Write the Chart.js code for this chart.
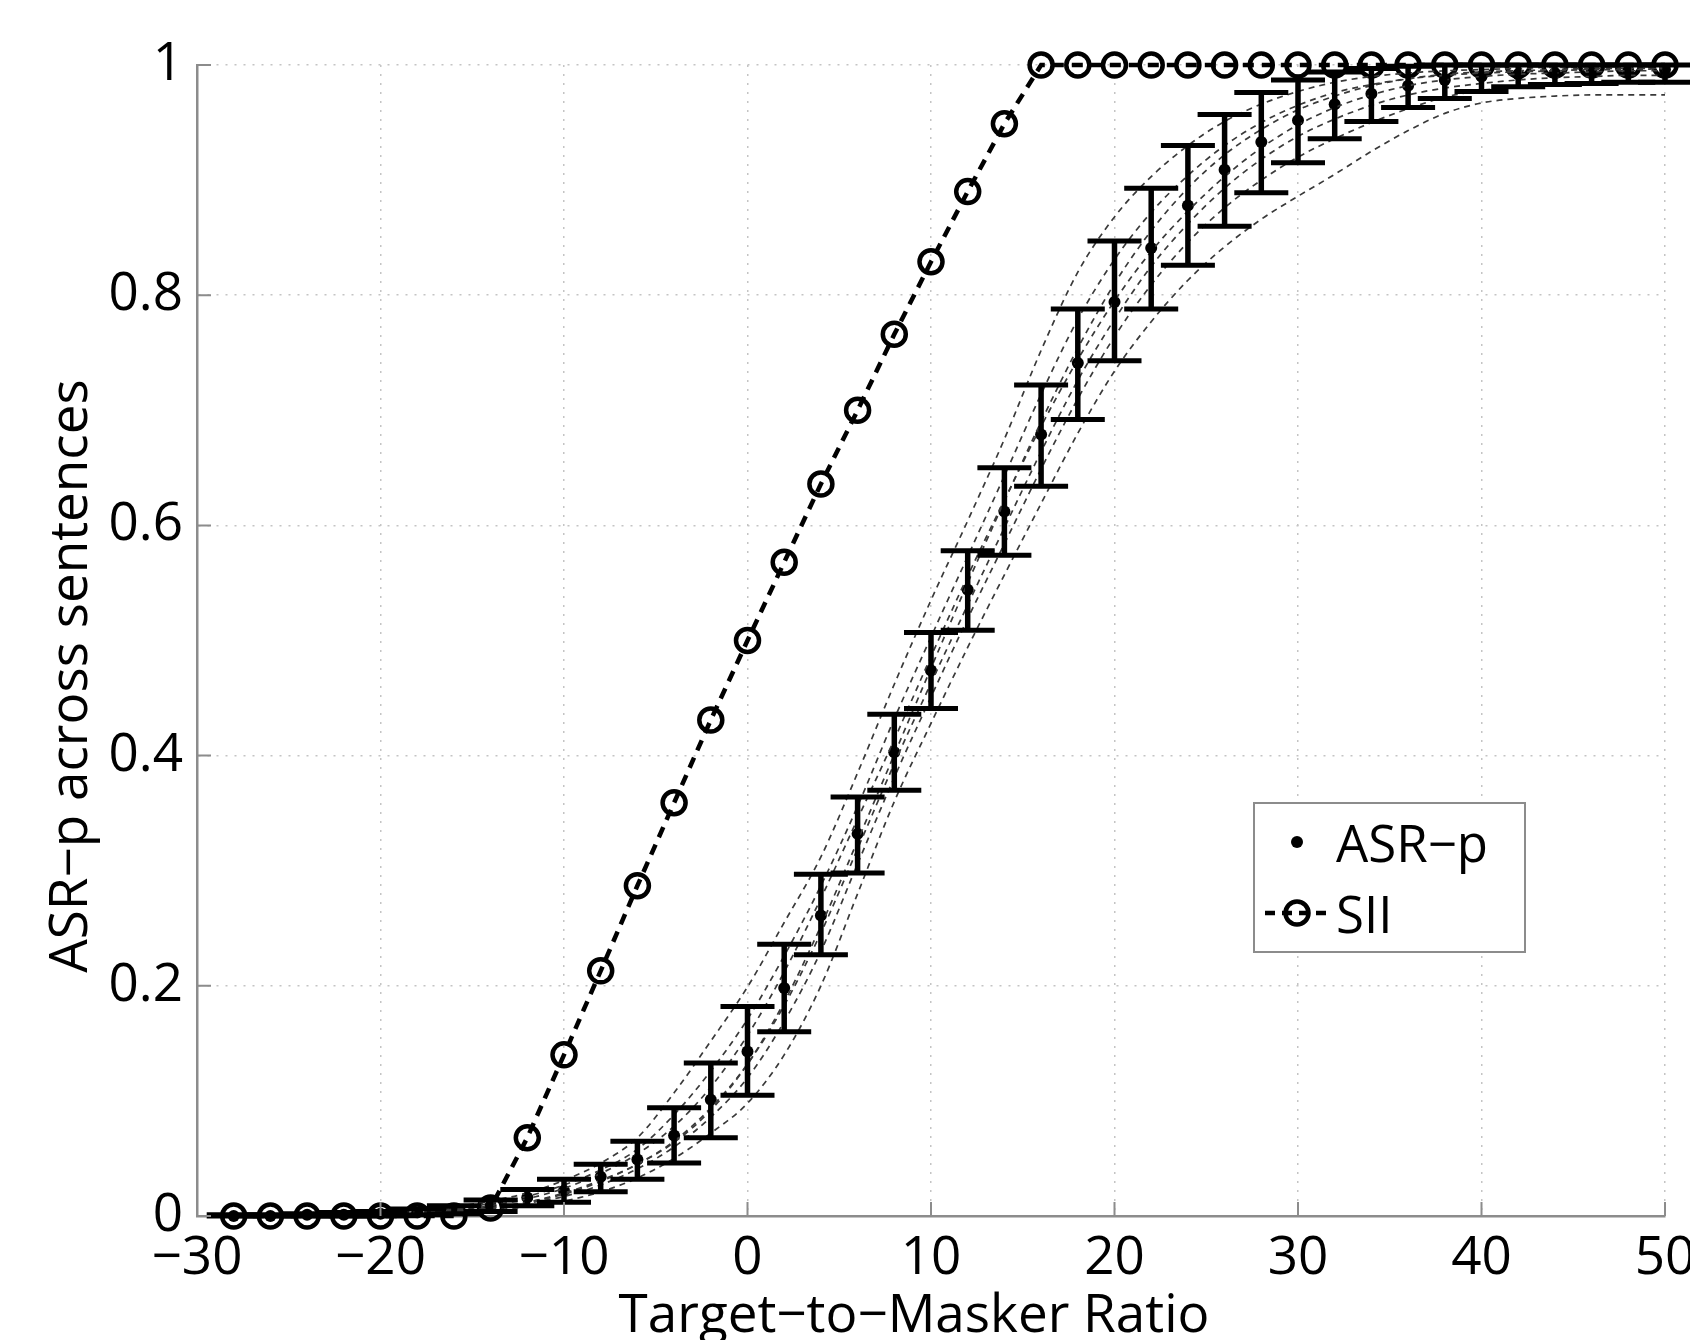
<!DOCTYPE html>
<html>
<head>
<meta charset="utf-8">
<script src="https://cdn.jsdelivr.net/npm/chart.js@4.4.1/dist/chart.umd.min.js"></script>
<style>
  html, body { margin: 0; padding: 0; background: #fff; }
  #wrap { width: 1690px; height: 1340px; }
</style>
</head>
<body>
<div id="wrap"><canvas id="c" width="1690" height="1340"></canvas></div>
<script>
// Target-to-masker ratio (dB) at which both predictors were evaluated
const tmr = [-28, -26, -24, -22, -20, -18, -16, -14, -12, -10, -8, -6, -4, -2, 0, 2, 4, 6, 8, 10,
             12, 14, 16, 18, 20, 22, 24, 26, 28, 30, 32, 34, 36, 38, 40, 42, 44, 46, 48, 50];

// SII prediction
const sii = [0, 0, 0, 0, 0, 0, 0, 0.007, 0.068, 0.140, 0.213, 0.287, 0.359, 0.431, 0.500, 0.568, 0.636, 0.700, 0.766, 0.829,
             0.890, 0.949, 1, 1, 1, 1, 1, 1, 1, 1, 1, 1, 1, 1, 1, 1, 1, 1, 1, 1];

// ASR-p mean across sentences, with the upper and lower ends of its error bars
const asrMean = [0.000, 0.000, 0.001, 0.001, 0.002, 0.003, 0.005, 0.009, 0.016, 0.022, 0.034, 0.049, 0.070, 0.101, 0.143, 0.198, 0.261, 0.332, 0.403, 0.474,
                 0.544, 0.612, 0.679, 0.741, 0.794, 0.841, 0.878, 0.909, 0.933, 0.952, 0.966, 0.975, 0.982, 0.987, 0.990, 0.992, 0.993, 0.994, 0.995, 0.996];
const asrHigh = [0.001, 0.001, 0.002, 0.003, 0.004, 0.006, 0.009, 0.014, 0.023, 0.032, 0.045, 0.065, 0.094, 0.133, 0.182, 0.236, 0.297, 0.364, 0.436, 0.507,
                 0.578, 0.650, 0.722, 0.788, 0.847, 0.893, 0.930, 0.957, 0.976, 0.987, 0.994, 0.997, 0.999, 1.000, 1.000, 1.000, 1.000, 1.000, 1.000, 1.000];
const asrLow  = [0.000, 0.000, 0.000, 0.000, 0.000, 0.001, 0.002, 0.004, 0.009, 0.012, 0.021, 0.032, 0.046, 0.068, 0.105, 0.160, 0.227, 0.298, 0.370, 0.441,
                 0.509, 0.574, 0.634, 0.692, 0.743, 0.788, 0.826, 0.860, 0.889, 0.915, 0.936, 0.951, 0.963, 0.971, 0.977, 0.981, 0.983, 0.984, 0.985, 0.985];

// Individual ASR-p sentence curves (thin dashed)
const curveX = [-20, -18, -16, -14, -12, -10, -8, -6, -4, -2, 0, 2, 4, 6, 8, 10, 12, 14,
                16, 18, 20, 22, 24, 26, 28, 30, 32, 34, 36, 38, 40, 42, 44, 46, 48, 50];
const curveA = [.003, .005, .008, .013, .020, .031, .046, .068, .107, .152, .199, .255, .312, .385, .462, .535, .604, .675,
                .752, .820, .868, .903, .930, .951, .966, .977, .985, .990, .993, .995, .996, .997, .998, .998, .998, .998];
const curveB = [.003, .004, .006, .011, .017, .027, .040, .058, .088, .126, .171, .226, .287, .356, .432, .503, .573, .643,
                .714, .779, .831, .872, .904, .930, .950, .965, .976, .983, .988, .991, .993, .994, .995, .996, .996, .997];
const curveC = [.002, .003, .005, .009, .015, .024, .037, .054, .078, .112, .157, .212, .276, .345, .414, .486, .556, .622,
                .686, .744, .795, .838, .873, .903, .928, .948, .963, .974, .982, .987, .990, .992, .993, .994, .995, .995];
const curveD = [.001, .002, .004, .007, .012, .019, .030, .045, .064, .092, .132, .186, .252, .326, .401, .476, .550, .621,
                .690, .754, .810, .856, .893, .922, .944, .961, .973, .982, .988, .992, .994, .995, .996, .997, .997, .997];
const curveE = [.002, .003, .004, .007, .012, .020, .031, .045, .065, .094, .132, .183, .246, .319, .393, .463, .531, .598,
                .664, .726, .779, .825, .862, .893, .918, .938, .953, .965, .974, .980, .984, .987, .989, .990, .991, .991];
const curveF = [.001, .002, .004, .006, .011, .017, .027, .041, .060, .086, .120, .169, .230, .306, .381, .451, .519, .584,
                .649, .710, .764, .809, .846, .876, .900, .920, .936, .950, .962, .972, .978, .981, .983, .984, .985, .985];
const curveG = [.001, .002, .003, .005, .008, .013, .021, .033, .050, .072, .098, .140, .200, .280, .360, .428, .494, .557,
                .619, .680, .734, .777, .813, .842, .866, .886, .905, .925, .943, .958, .967, .971, .973, .974, .974, .974];

// Axis ticks
const xTicks = [-30, -20, -10, 0, 10, 20, 30, 40, 50];
const yTicks = [0, 0.2, 0.4, 0.6, 0.8, 1];

const FONT = "'Open Sans', 'Noto Sans', sans-serif";
const minus = v => (v < 0 ? '\u2212' + Math.abs(v) : String(v));
const pts = (xs, ys) => xs.map((x, i) => ({ x, y: ys[i] }));

const sentenceCurves = [curveA, curveB, curveC, curveD, curveE, curveF, curveG].map(c => ({
  data: pts(curveX, c),
  showLine: true,
  borderColor: '#3a3a3a',
  borderWidth: 1.7,
  borderDash: [6, 5],
  pointRadius: 0,
  cubicInterpolationMode: 'monotone',
  clip: false
}));

// Error bars drawn from asrLow/asrHigh through the chart scales
const errorBars = {
  id: 'errorBars',
  afterDatasetsDraw(chart) {
    const { ctx, scales: { x, y } } = chart;
    const cap = 27;
    ctx.save();
    ctx.strokeStyle = '#000';
    for (let i = 0; i < tmr.length; i++) {
      const px = x.getPixelForValue(tmr[i]);
      const lo = y.getPixelForValue(asrLow[i]);
      const hi = y.getPixelForValue(asrHigh[i]);
      ctx.lineWidth = 5.5;
      ctx.beginPath();
      ctx.moveTo(px, lo); ctx.lineTo(px, hi);
      ctx.stroke();
      ctx.lineWidth = 5;
      ctx.beginPath();
      ctx.moveTo(px - cap, lo); ctx.lineTo(px + cap, lo);
      ctx.moveTo(px - cap, hi); ctx.lineTo(px + cap, hi);
      ctx.stroke();
    }
    ctx.restore();
  }
};

// Inward tick marks, axis titles and the legend box
const frame = {
  id: 'frame',
  afterDraw(chart) {
    const { ctx, chartArea: a, scales: { x, y } } = chart;
    ctx.save();
    ctx.strokeStyle = '#8c8c8c';
    ctx.lineWidth = 2;
    ctx.beginPath();
    xTicks.forEach(v => { const p = x.getPixelForValue(v); ctx.moveTo(p, a.bottom); ctx.lineTo(p, a.bottom - 14); });
    yTicks.forEach(v => { const p = y.getPixelForValue(v); ctx.moveTo(a.left, p); ctx.lineTo(a.left + 14, p); });
    ctx.stroke();

    ctx.fillStyle = '#000';
    ctx.font = `53px ${FONT}`;
    ctx.textAlign = 'center';
    ctx.textBaseline = 'alphabetic';
    ctx.fillText('Target\u2212to\u2212Masker Ratio', 914, 1332);
    ctx.save();
    ctx.translate(87, 676);
    ctx.rotate(-Math.PI / 2);
    ctx.fillText('ASR\u2212p across sentences', 0, 0);
    ctx.restore();

    // legend
    const L = { x: 1254, y: 803, w: 271, h: 149 };
    ctx.fillStyle = '#fff';
    ctx.fillRect(L.x, L.y, L.w, L.h);
    ctx.strokeStyle = '#8c8c8c';
    ctx.lineWidth = 2;
    ctx.strokeRect(L.x, L.y, L.w, L.h);

    ctx.fillStyle = '#000';
    ctx.beginPath();
    ctx.arc(1297, 842, 6, 0, Math.PI * 2);
    ctx.fill();

    ctx.strokeStyle = '#000';
    ctx.lineWidth = 4.5;
    ctx.setLineDash([10, 7]);
    ctx.beginPath();
    ctx.moveTo(1265, 913); ctx.lineTo(1327, 913);
    ctx.stroke();
    ctx.setLineDash([]);
    ctx.beginPath();
    ctx.arc(1297, 913, 11.5, 0, Math.PI * 2);
    ctx.stroke();

    ctx.font = `51px ${FONT}`;
    ctx.textAlign = 'left';
    ctx.fillText('ASR\u2212p', 1336, 862);
    ctx.fillText('SII', 1336, 933);
    ctx.restore();
  }
};

new Chart(document.getElementById('c'), {
  type: 'scatter',
  data: {
    datasets: [
      ...sentenceCurves,
      {
        label: 'ASR\u2212p',
        data: pts(tmr, asrMean),
        showLine: false,
        pointRadius: 6,
        pointBackgroundColor: '#000',
        pointBorderColor: '#000',
        pointBorderWidth: 0,
        clip: false
      },
      {
        label: 'SII',
        data: pts(tmr, sii),
        showLine: true,
        borderColor: '#000',
        borderWidth: 4.5,
        borderDash: [11, 8],
        tension: 0,
        pointStyle: 'circle',
        pointRadius: 11.5,
        pointBorderWidth: 4.5,
        pointBorderColor: '#000',
        pointBackgroundColor: 'rgba(0,0,0,0)',
        clip: false
      }
    ]
  },
  options: {
    responsive: false,
    animation: false,
    events: [],
    layout: { padding: { top: 65, right: 25, left: 0, bottom: 0 } },
    plugins: { legend: { display: false }, tooltip: { enabled: false } },
    scales: {
      x: {
        type: 'linear',
        min: -30, max: 50,
        afterBuildTicks: s => { s.ticks = xTicks.map(v => ({ value: v })); },
        afterFit: s => { s.height = 124; s.paddingLeft = 0; s.paddingRight = 0; },
        ticks: { callback: v => minus(v), color: '#000', font: { family: FONT, size: 53 }, padding: 11, maxRotation: 0, autoSkip: false },
        grid: { color: '#c4c4c4', lineWidth: 1.5, drawTicks: false },
        border: { display: true, color: '#8c8c8c', width: 2.5, dash: [2, 7] }
      },
      y: {
        type: 'linear',
        min: 0, max: 1,
        afterBuildTicks: s => { s.ticks = yTicks.map(v => ({ value: v })); },
        afterFit: s => { s.width = 197; s.paddingTop = 0; s.paddingBottom = 0; },
        ticks: { callback: v => String(Math.round(v * 10) / 10), color: '#000', font: { family: FONT, size: 53 }, padding: 14, autoSkip: false },
        grid: { color: '#c4c4c4', lineWidth: 1.5, drawTicks: false },
        border: { display: true, color: '#8c8c8c', width: 2.5, dash: [2, 7] }
      }
    }
  },
  plugins: [errorBars, frame]
});
</script>
</body>
</html>
